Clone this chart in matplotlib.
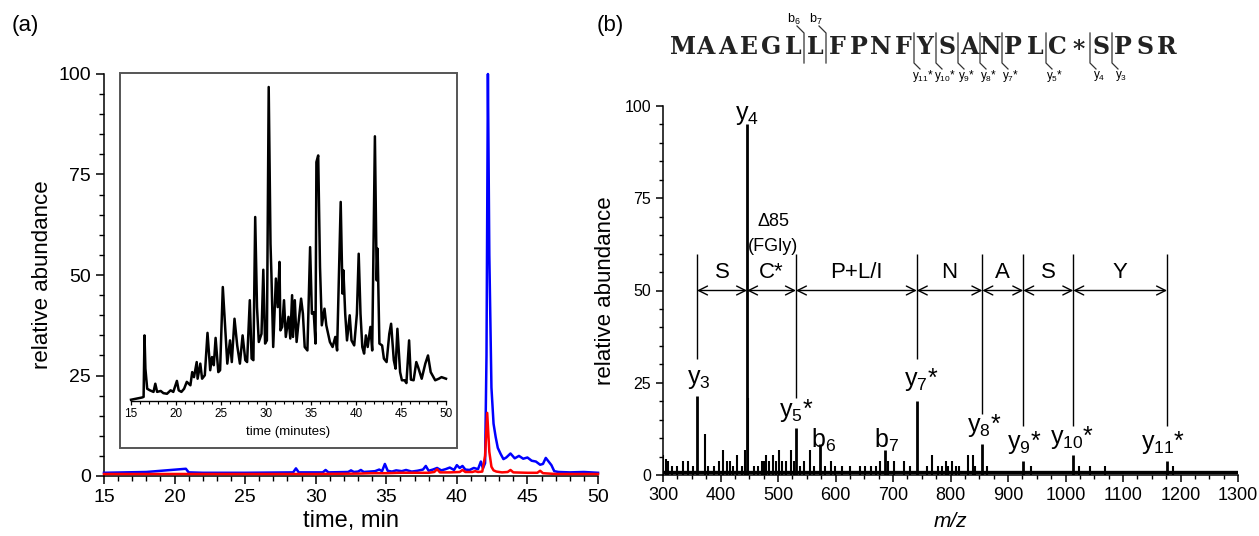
import matplotlib
matplotlib.use('Agg')
import matplotlib.pyplot as plt
from matplotlib.ticker import MultipleLocator
from matplotlib.lines import Line2D
from matplotlib.patches import Rectangle

plt.rcParams['font.family'] = ['Liberation Sans', 'DejaVu Sans']
plt.rcParams['mathtext.fontset'] = 'custom'
plt.rcParams['mathtext.rm'] = 'Liberation Sans'
plt.rcParams['mathtext.it'] = 'Liberation Sans:italic'

# ---------------- data: panel (a) ----------------
blue_t = [15.0, 18.0, 20.8, 21.0, 22, 25, 28.4, 28.6, 28.8, 30.5,
          30.7, 30.9, 32.3, 32.5, 32.7, 33.0, 33.2, 33.4, 34.2, 34.5,
          34.7, 34.9, 35.1, 35.4, 35.7, 36.1, 36.4, 36.8, 37.2, 37.6,
          37.8, 38.0, 38.3, 38.6, 38.9, 39.2, 39.5, 39.8, 40.0, 40.2,
          40.4, 40.6, 40.9, 41.2, 41.5, 41.7, 41.85, 42.0, 42.1, 42.2,
          42.3, 42.45, 42.6, 42.75, 42.9, 43.1, 43.3, 43.5, 43.8, 44.1,
          44.4, 44.7, 45.0, 45.3, 45.6, 45.9, 46.1, 46.3, 46.5, 46.7,
          46.9, 47.2, 48, 49, 50]
blue_v = [0.8, 1.0, 1.8, 0.9, 0.8, 0.8, 0.9, 1.9, 0.9, 0.9,
          1.5, 0.9, 1.0, 1.4, 1.0, 1.1, 1.5, 1.0, 1.2, 1.6,
          1.2, 3.0, 1.3, 1.1, 1.4, 1.2, 1.5, 1.1, 1.3, 1.6,
          2.5, 1.3, 1.6, 2.0, 1.4, 1.7, 2.1, 1.5, 2.7, 2.0,
          2.5, 1.6, 1.5, 2.0, 1.7, 3.6, 1.9, 3.2, 30, 100,
          55, 22, 13, 9.7, 7, 5.5, 4.2, 4.6, 5.6, 4.4,
          5.0, 4.3, 4.6, 3.8, 3.6, 2.8, 3.0, 4.5, 3.6, 2.7,
          1.2, 1.0, 0.9, 1.0, 0.8]

red_t = [15, 20, 25, 30, 33, 34, 35, 36, 37, 38,
         38.4, 38.6, 38.8, 39.5, 40.2, 40.4, 40.6, 41.1, 41.3, 41.5,
         41.8, 42.0, 42.15, 42.3, 42.45, 42.6, 42.8, 43.2, 43.6, 43.8,
         44.0, 45.0, 45.7, 45.9, 46.1, 47, 50]
red_v = [0.5, 0.5, 0.5, 0.5, 0.6, 0.7, 0.7, 0.8, 0.8, 0.8,
         1.0, 1.7, 0.9, 0.9, 1.0, 1.5, 1.0, 1.0, 1.2, 1.0,
         1.1, 5.0, 15.7, 6.0, 2.3, 1.4, 1.1, 0.9, 1.0, 1.5,
         0.9, 0.8, 0.8, 1.3, 0.7, 0.5, 0.5]

inset_t = [15.0, 16.2, 16.4, 16.5, 16.6, 16.8, 17.1, 17.5, 17.7, 17.9,
           18.3, 18.6, 19.0, 19.4, 19.7, 20.1, 20.3, 20.6, 20.9, 21.2,
           21.6, 21.8, 22.0, 22.3, 22.4, 22.7, 22.9, 23.2, 23.5, 23.8,
           24.0, 24.2, 24.4, 24.7, 24.9, 25.2, 25.5, 25.7, 26.0, 26.2,
           26.5, 26.8, 27.1, 27.4, 27.7, 27.9, 28.2, 28.4, 28.6, 28.8,
           29.0, 29.2, 29.5, 29.7, 29.9, 30.1, 30.3, 30.5, 30.6, 30.8,
           31.1, 31.3, 31.5, 31.6, 31.8, 32.0, 32.2, 32.5, 32.7, 32.9,
           33.0, 33.2, 33.4, 33.6, 33.9, 34.1, 34.3, 34.6, 34.9, 35.1,
           35.3, 35.5, 35.6, 35.8, 36.0, 36.2, 36.5, 36.7, 37.1, 37.4,
           37.7, 37.9, 38.3, 38.5, 38.6, 38.8, 39.0, 39.3, 39.5, 39.8,
           40.1, 40.3, 40.5, 40.7, 40.9, 41.1, 41.3, 41.6, 41.8, 42.1,
           42.3, 42.4, 42.6, 42.9, 43.1, 43.4, 43.7, 43.9, 44.2, 44.4,
           44.6, 44.9, 45.1, 45.4, 45.6, 45.9, 46.1, 46.4, 46.7, 46.9,
           47.3, 47.7, 48.0, 48.3, 48.8, 49.2, 49.5, 50.0]
inset_v = [0.4, 1.1, 1.3, 20.9, 10.3, 3.9, 3.4, 2.9, 5.5, 2.9,
           3.2, 2.5, 2.3, 3.4, 2.9, 6.4, 3.4, 2.9, 3.9, 6.1,
           5.0, 9.2, 7.6, 12.4, 7.1, 11.9, 7.1, 8.2, 21.7, 9.8,
           14.0, 11.4, 20.1, 9.2, 9.8, 36.3, 21.4, 11.9, 19.3, 12.4,
           26.2, 17.7, 11.9, 20.9, 13.0, 12.4, 32.1, 13.5, 13.0, 58.6,
           29.9, 18.8, 21.4, 41.8, 18.3, 19.3, 100, 50.1, 40.6, 17.2,
           39.0, 29.9, 44.3, 22.5, 23.6, 32.1, 20.4, 26.8, 19.9, 33.7,
           20.4, 32.1, 18.8, 24.6, 32.6, 27.8, 17.2, 16.1, 49.0, 27.8,
           28.3, 18.3, 76.1, 78.2, 42.7, 24.1, 29.4, 24.1, 18.8, 17.2,
           20.4, 16.1, 63.4, 34.2, 41.6, 27.8, 19.3, 27.3, 19.3, 17.7,
           27.8, 46.9, 27.8, 17.2, 15.1, 20.9, 17.2, 23.6, 16.1, 84.3,
           38.4, 48.5, 18.3, 17.7, 13.5, 12.4, 21.4, 24.6, 13.0, 10.3,
           23.0, 9.2, 6.6, 6.6, 5.7, 19.3, 6.8, 6.6, 12.4, 10.8,
           7.1, 11.9, 14.5, 9.2, 6.6, 7.1, 7.6, 7.1]

# ---------------- data: panel (b) ----------------
ion_labels = ['y3', 'y4', 'y5*', 'b6', 'b7', 'y7*', 'y8*', 'y9*', 'y10*', 'y11*']
ion_mz = [359.2, 446.2, 531.2, 573.3, 686.4, 741.4, 855.4, 926.5, 1013.5, 1176.6]
ion_int = [21.4, 95.0, 12.7, 8.4, 6.8, 20.1, 8.4, 3.9, 5.4, 3.9]

noise_mz = [300, 305, 309, 315, 325, 334, 343, 352, 373, 379,
            389, 397, 405, 412, 417, 422, 429, 437, 442, 448,
            459, 465, 472, 475, 479, 484, 492, 497, 502, 507,
            514, 522, 527, 539, 545, 555, 562, 581, 592, 599,
            612, 625, 642, 652, 662, 670, 677, 692, 702, 719,
            729, 759, 767, 779, 785, 792, 795, 803, 809, 815,
            831, 839, 842, 864, 940, 1023, 1042, 1069, 1187]
noise_int = [5.4, 4.3, 3.9, 2.5, 2.5, 3.9, 3.9, 2.5, 11.2, 2.5,
             2.5, 3.9, 6.8, 3.9, 3.9, 2.5, 5.4, 2.5, 6.8, 21.0,
             2.5, 2.5, 3.9, 3.9, 5.4, 3.9, 5.4, 3.9, 6.8, 3.9,
             3.9, 6.8, 3.9, 2.5, 3.9, 6.8, 2.5, 2.5, 3.9, 2.5,
             2.5, 2.5, 2.5, 2.5, 2.5, 2.5, 3.9, 3.9, 3.9, 3.9,
             2.5, 2.5, 5.4, 2.5, 2.5, 3.9, 2.5, 3.9, 2.5, 2.5,
             5.4, 5.4, 2.5, 2.5, 2.5, 2.5, 2.5, 2.5, 2.5]
baseline_level = 0.8

# ladder of sequence ions (boundaries) and residues between them
ladder_mz = [359.2, 446.2, 531.2, 741.4, 855.4, 926.5, 1013.5, 1176.6]
ladder_res = ['S', 'C*', 'P+L/I', 'N', 'A', 'S', 'Y']
marker_mz = [359.2, 531.2, 741.4, 855.4, 926.5, 1013.5, 1176.6]
marker_bottom = [31.5, 21.0, 31.5, 16.5, 13.3, 13.3, 13.3]

sequence = ['M', 'A', 'A', 'E', 'G', 'L', 'L', 'F', 'P', 'N', 'F', 'Y',
            'S', 'A', 'N', 'P', 'L', 'C', '*', 'S', 'P', 'S', 'R']
b_breaks = {6: '6', 7: '7'}
y_breaks = {11: '11*', 12: '10*', 13: '9*', 14: '8*', 15: '7*', 17: '5*', 19: '4', 20: '3'}

W, H = 1259, 536
fig = plt.figure(figsize=(W / 100, H / 100), dpi=100)


def fx(x):
    return x / W


def fy(y):
    return 1 - y / H


def ionlabel(s):
    base = s[0]
    rest = s[1:]
    star = rest.endswith('*')
    num = rest.rstrip('*')
    lab = r'$\mathregular{%s_{%s}}$' % (base, num)
    return lab + ('*' if star else '')


# ---------------- panel (a) ----------------
axA = fig.add_axes([fx(104), fy(476), fx(598) - fx(104), fy(74) - fy(476)])
axA.plot(blue_t, blue_v, color='#0000ff', lw=1.8, zorder=3, clip_on=False)
axA.plot(red_t, red_v, color='#ff0000', lw=1.8, zorder=4, clip_on=False)
axA.set_xlim(15, 50)
axA.set_ylim(0, 100)
for s in ['top', 'right']:
    axA.spines[s].set_visible(False)
for s in ['left', 'bottom']:
    axA.spines[s].set_linewidth(1.1)
axA.set_xticks(range(15, 51, 5))
axA.xaxis.set_minor_locator(MultipleLocator(1))
axA.set_yticks([0, 25, 50, 75, 100])
axA.yaxis.set_minor_locator(MultipleLocator(5))
axA.tick_params(which='major', direction='out', length=6, width=1.1, labelsize=14)
axA.tick_params(which='minor', direction='out', length=3.5, width=1.0)
axA.set_xlabel('time, min', fontsize=17, labelpad=3)
axA.set_ylabel('relative abundance', fontsize=16, labelpad=4)

# inset frame and inset chromatogram
fig.add_artist(Rectangle((fx(120), fy(448)), fx(457) - fx(120), fy(73) - fy(448),
                         transform=fig.transFigure, fill=False, ec='#555555', lw=1.4))
axI = fig.add_axes([fx(131), fy(401), fx(446) - fx(131), fy(87) - fy(401)])
axI.patch.set_alpha(0)
axI.plot(inset_t, inset_v, color='black', lw=1.8, clip_on=False)
axI.set_xlim(15, 50)
axI.set_ylim(0, 100)
for s in ['top', 'right', 'left']:
    axI.spines[s].set_visible(False)
axI.spines['bottom'].set_linewidth(1.0)
axI.set_yticks([])
axI.set_xticks(range(15, 51, 5))
axI.xaxis.set_minor_locator(MultipleLocator(1))
axI.tick_params(which='major', direction='out', length=3, width=0.9, labelsize=8.5, pad=2)
axI.tick_params(which='minor', direction='out', length=2, width=0.8)
axI.set_xlabel('time (minutes)', fontsize=9.5, labelpad=4)

# ---------------- panel (b) ----------------
axB = fig.add_axes([fx(663), fy(475), fx(1238) - fx(663), fy(106) - fy(475)])
axB.set_xlim(300, 1300)
axB.set_ylim(0, 100)
axB.hlines(baseline_level, 300, 1300, color='black', lw=2.4)
axB.vlines(noise_mz, 0, noise_int, color='black', lw=1.5)
axB.vlines(ion_mz, 0, ion_int, color='black', lw=2.0)
for s in ['top', 'right']:
    axB.spines[s].set_visible(False)
for s in ['left', 'bottom']:
    axB.spines[s].set_linewidth(1.1)
axB.set_xticks(range(300, 1301, 100))
axB.xaxis.set_minor_locator(MultipleLocator(25))
axB.set_yticks([0, 25, 50, 75, 100])
axB.yaxis.set_minor_locator(MultipleLocator(5))
axB.tick_params(which='major', direction='out', length=5, width=1.1)
axB.tick_params(which='minor', direction='out', length=3, width=1.0)
axB.tick_params(axis='x', labelsize=13)
axB.tick_params(axis='y', labelsize=11.5)
axB.set_xlabel('m/z', fontsize=15, style='italic', labelpad=6)
axB.set_ylabel('relative abundance', fontsize=16, labelpad=6)

# ion labels
label_pos = {'y3': (362, 26), 'y4': (446, 97.5), 'y5*': (532, 17.5), 'b6': (579, 9.5),
             'b7': (689, 9.5), 'y7*': (749, 26), 'y8*': (859, 13.3), 'y9*': (929, 8.8),
             'y10*': (1012, 10.2), 'y11*': (1169, 8.8)}
for lab in ion_labels:
    x, y = label_pos[lab]
    axB.text(x, y, ionlabel(lab), fontsize=18, ha='center', va='center')

# sequence ladder
axB.vlines(marker_mz, marker_bottom, 60, color='black', lw=1.0)
for i, res in enumerate(ladder_res):
    axB.annotate('', xy=(ladder_mz[i], 50), xytext=(ladder_mz[i + 1], 50),
                 arrowprops=dict(arrowstyle='<->', lw=1.0, color='black',
                                 shrinkA=0, shrinkB=0, mutation_scale=16))
    axB.text((ladder_mz[i] + ladder_mz[i + 1]) / 2, 54.8, res, fontsize=16,
             ha='center', va='center')
axB.text(492, 68.6, '\u039485', fontsize=13, ha='center', va='center')
axB.text(492, 61.8, '(FGly)', fontsize=13, ha='center', va='center')

# peptide sequence with fragment marks
x0, step = 683, 22
ytxt = 47
for i, ch in enumerate(sequence):
    fig.text(fx(x0 + step * i), fy(ytxt + (3 if ch == '*' else 0)), ch,
             family=['DejaVu Serif'], weight='heavy', fontsize=17,
             ha='center', va='center', color='#222222')
for i, num in b_breaks.items():
    xb = x0 + step * (i - 0.5)
    fig.add_artist(Line2D([fx(xb), fx(xb), fx(xb - 7)], [fy(63), fy(33), fy(26)],
                          transform=fig.transFigure, color='#333333', lw=0.9))
    fig.text(fx(xb - 10), fy(19), ionlabel('b' + num), fontsize=9,
             ha='center', va='center')
for i, num in y_breaks.items():
    xb = x0 + step * (i - 0.5)
    fig.add_artist(Line2D([fx(xb), fx(xb), fx(xb + 6)], [fy(33), fy(63), fy(69)],
                          transform=fig.transFigure, color='#333333', lw=0.9))
    fig.text(fx(xb + 9), fy(76), ionlabel('y' + num), fontsize=8.5,
             ha='center', va='center')

fig.text(fx(12), fy(25), '(a)', fontsize=16, va='center')
fig.text(fx(597), fy(25), '(b)', fontsize=16, va='center')

fig.savefig('out.png', dpi=100)
